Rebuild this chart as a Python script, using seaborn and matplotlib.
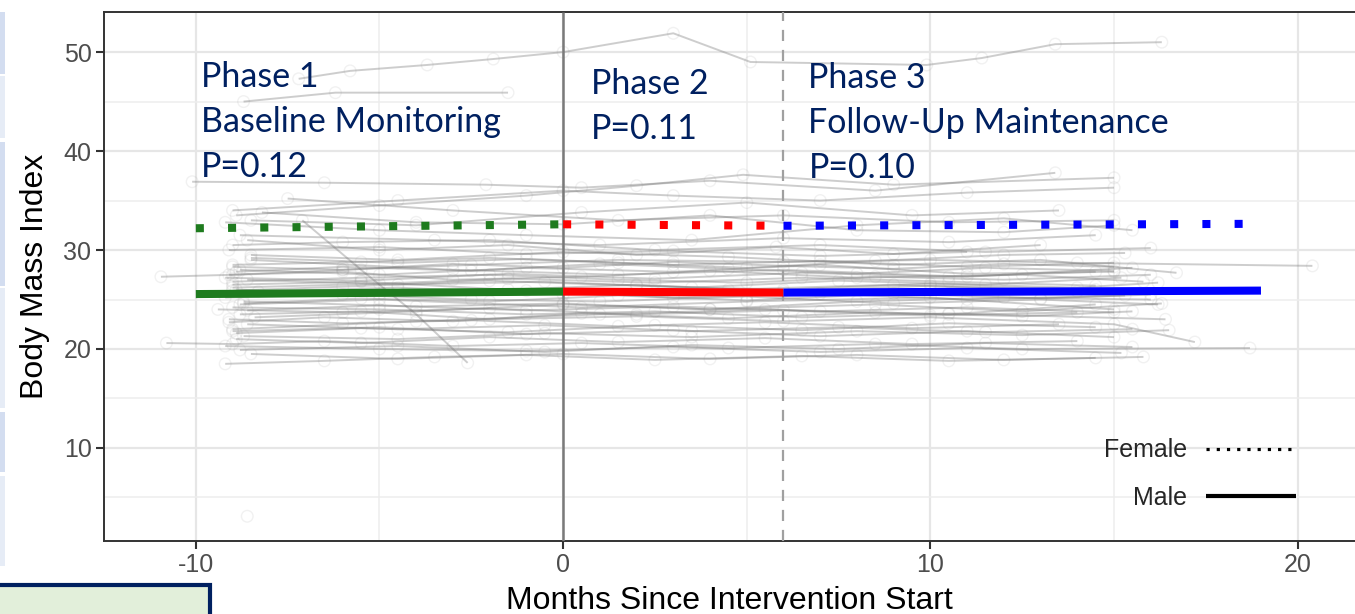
import pandas as pd
import numpy as np
import matplotlib.pyplot as plt
import seaborn as sns
from matplotlib.lines import Line2D
from matplotlib.patches import Rectangle
from matplotlib.ticker import MultipleLocator

# individual subject trajectories (months since start, BMI)
subject_months = [
    [-7.2, -5.8, -3.7, -1.9, 0.0, 3.0, 5.1, 9.9, 11.4, 13.4, 16.3],
    [-8.7, -6.2, -1.5],
    [-10.1, -6.5, -2.1, 0.5, 4.0, 8.5, 13.4],
    [-8.9, -5.0, -1.0, 2.0, 4.9, 9.0, 15.0],
    [-9.0, -4.5, 0.0, 3.0, 7.0, 11.0, 15.0],
    [-8.5, -4.0, 0.5, 5.0, 9.5, 13.5],
    [-7.1, -5.5, -4.0, -2.6],
    [-9.2, -5.0, -1.0, 3.5, 8.0, 12.0, 15.5],
    [-8.8, -3.5, 1.0, 6.0, 10.5, 14.5],
    [-9.0, -6.0, -2.0, 2.5, 7.0, 11.5, 16.0],
    [-10.95, -9.0, -6.0, -2.5, 1.5, 6.0, 10.0, 14.0, 20.4],
    [-8.5, -4.5, 0.0, 4.5, 9.0, 13.0, 16.7],
    [-9.0, -5.5, -2.0, 1.5, 5.0, 8.5, 12.0, 15.3],
    [-8.8, -5.0, -1.0, 3.0, 7.0, 11.0, 15.0],
    [-9.1, -6.0, -3.0, 0.5, 4.0, 8.0, 12.5, 15.8],
    [-8.6, -4.5, -0.5, 3.5, 7.5, 11.5, 15.2],
    [-9.0, -5.5, -1.5, 2.0, 6.0, 10.0, 14.5],
    [-8.9, -5.0, -1.0, 3.0, 7.0, 11.0, 15.3],
    [-9.2, -6.0, -2.5, 1.0, 5.0, 9.0, 13.0, 16.2],
    [-8.7, -4.0, 0.0, 4.0, 8.5, 12.5, 16.3],
    [-9.0, -5.0, -1.0, 2.5, 6.5, 10.5, 16.4],
    [-8.8, -5.5, -2.0, 2.0, 6.0, 10.0, 15.0, 17.2],
    [-9.1, -6.0, -2.5, 1.5, 5.5, 9.5, 13.5],
    [-8.6, -4.5, -0.5, 3.5, 7.5, 11.5, 15.5],
    [-9.0, -5.0, -1.0, 3.0, 7.0, 11.0, 15.0],
    [-10.8, -9.0, -6.5, -3.0, 0.5, 4.5, 8.5, 12.5, 18.7],
    [-8.9, -5.5, -2.0, 1.5, 5.5, 9.5, 14.0],
    [-9.2, -5.0, -1.0, 3.0, 7.0, 11.0, 15.2],
    [-9.2, -6.5, -3.5, 0.0, 4.0, 8.0, 12.0, 15.8],
    [-8.5, -4.5, -1.0, 2.5, 6.5, 10.5, 14.5],
    [-8.8, -5.0, 0.5, 5.0, 10.0, 15.0],
    [-8.3, -4.5, 0.0, 4.5, 9.0, 14.0],
    [-8.5, -3.0, 1.5, 6.0, 11.0, 15.5],
    [-9.0, -4.0, 1.0, 5.5, 10.5, 14.5],
    [-8.6, -5.0, -1.5, 2.0, 5.8, 9.0, 13.0],
    [-9.0, -5.5, -2.0, 1.5, 5.0, 8.5, 12.0, 16.0],
    [-8.4, -4.0, 0.0, 4.0, 8.0, 12.0, 16.0],
    [-9.0, -6.0, -3.0, 0.0, 3.0, 6.0, 9.0, 12.0, 15.0],
    [-8.7, -4.5, -0.5, 3.5, 8.0, 12.5, 16.5],
    [-9.1, -5.0, -1.0, 3.0, 7.0, 11.0],
    [-8.2, -4.0, 0.0, 4.0, 8.0, 12.0, 15.0],
    [-9.4, -6.0, -2.0, 2.0, 6.0, 10.0, 14.0],
    [-7.5, -3.0, 1.5, 6.0, 10.5, 15.0],
    [-8.6],
    [-8.9, -6.0, -2.5, 1.0, 4.5, 8.0, 11.5, 15.0],
    [-9.0, -5.0, -1.5, 2.5, 6.5, 10.5, 14.5],
    [-8.7, -5.5, -2.0, 1.5, 5.0, 9.0, 13.0, 16.0],
    [-9.1, -6.5, -3.0, 0.5, 4.5, 8.5, 12.5, 15.5],
    [-8.5, -4.5, -1.0, 3.0, 7.0, 11.0, 15.0],
    [-8.9, -5.5, -1.5, 2.5, 6.5, 10.5, 14.5],
    [-9.0, -6.0, -2.0, 2.0, 6.0, 10.0, 14.0, 16.2],
    [-8.8, -4.5, -0.5, 3.5, 7.5, 11.5, 15.5],
    [-9.2, -5.5, -1.5, 2.5, 6.5, 10.5, 14.5],
    [-8.6, -5.0, -1.0, 3.0, 7.0, 11.0, 15.0],
]
subject_bmi = [
    [47.3, 48.1, 48.7, 49.3, 50.0, 51.9, 49.0, 48.7, 49.4, 50.8, 51.0],
    [45.0, 45.9, 45.9],
    [36.9, 36.8, 36.6, 36.3, 37.0, 36.0, 37.8],
    [33.5, 34.5, 35.5, 36.5, 37.6, 36.6, 37.3],
    [34.0, 35.0, 36.0, 35.5, 35.0, 35.8, 36.3],
    [33.0, 32.5, 33.8, 34.8, 33.5, 34.0],
    [33.0, 28.0, 23.5, 18.6],
    [32.8, 32.0, 31.5, 31.0, 32.5, 33.2, 32.0],
    [31.5, 31.0, 30.5, 31.2, 30.8, 31.5],
    [30.5, 30.8, 31.0, 30.0, 30.5, 29.8, 30.2],
    [27.3, 27.5, 28.0, 28.5, 29.0, 28.8, 29.0, 28.7, 28.4],
    [29.5, 29.0, 29.8, 29.3, 28.5, 29.0, 27.7],
    [28.5, 28.8, 29.2, 28.7, 28.2, 28.9, 29.5, 29.7],
    [28.0, 27.5, 28.2, 27.8, 28.5, 27.6, 27.8],
    [27.5, 27.8, 27.0, 27.3, 27.9, 27.2, 27.5, 26.8],
    [27.0, 26.5, 26.8, 26.2, 26.9, 26.5, 27.2],
    [26.5, 26.8, 26.0, 26.5, 25.8, 26.4, 26.0],
    [26.0, 25.5, 25.9, 25.2, 25.6, 25.0, 25.4],
    [25.2, 25.5, 25.0, 24.8, 25.3, 24.6, 25.0, 24.5],
    [24.8, 24.3, 24.6, 24.0, 24.5, 23.8, 24.6],
    [24.2, 24.0, 23.5, 23.8, 23.2, 23.6, 23.0],
    [23.5, 23.8, 23.0, 23.3, 22.8, 23.2, 22.5, 20.7],
    [23.0, 22.6, 22.9, 22.3, 22.7, 22.1, 22.5],
    [22.5, 22.0, 22.4, 21.8, 22.2, 21.7, 22.0],
    [21.8, 22.2, 21.5, 21.9, 21.3, 21.8, 21.2],
    [20.6, 20.5, 20.8, 20.3, 20.6, 20.1, 20.5, 20.0, 20.1],
    [21.0, 20.6, 21.2, 20.7, 21.1, 20.5, 20.8],
    [20.3, 20.0, 19.8, 20.2, 19.7, 20.1, 19.6],
    [18.5, 18.8, 19.2, 19.5, 19.0, 19.4, 18.9, 19.2],
    [19.5, 19.0, 19.4, 18.9, 19.3, 18.8, 19.1],
    [24.5, 25.0, 24.2, 24.8, 25.2, 24.0],
    [25.8, 26.2, 25.5, 26.0, 26.5, 25.8],
    [29.0, 28.0, 27.5, 28.0, 27.3, 28.2],
    [22.0, 22.8, 23.5, 24.0, 23.5, 24.5],
    [31.0, 30.0, 30.5, 29.5, 30.3, 29.6, 30.5],
    [26.8, 27.2, 27.5, 27.0, 26.7, 27.3, 27.0, 27.5],
    [23.2, 23.8, 24.5, 24.0, 24.8, 25.2, 25.0],
    [28.3, 28.0, 28.6, 28.2, 28.8, 28.4, 28.1, 28.6, 28.3],
    [21.3, 21.0, 21.6, 21.2, 21.8, 21.4, 21.9],
    [30.0, 30.3, 29.6, 29.9, 29.4, 29.8],
    [33.8, 32.8, 32.6, 33.5, 32.0, 31.8, 32.5],
    [24.0, 23.7, 24.1, 23.5, 23.9, 23.4, 23.7],
    [35.2, 34.0, 33.0, 33.5, 32.8, 33.0],
    [3.1],
    [27.8, 28.3, 27.9, 28.6, 28.1, 27.6, 28.2, 27.9],
    [26.2, 26.6, 27.1, 26.7, 27.2, 26.8, 26.4],
    [24.6, 25.1, 24.8, 25.4, 24.9, 25.6, 25.1, 25.5],
    [22.7, 23.2, 22.8, 23.6, 23.1, 23.7, 23.3, 23.8],
    [29.2, 28.7, 29.1, 28.5, 28.9, 28.3, 28.7],
    [21.6, 22.1, 21.7, 22.4, 21.9, 22.6, 22.2],
    [25.9, 26.3, 26.9, 26.4, 26.0, 26.6, 26.2, 26.7],
    [19.9, 20.3, 19.7, 20.4, 20.0, 20.6, 20.2],
    [27.2, 26.9, 27.6, 27.1, 27.7, 27.3, 27.8],
    [23.9, 24.4, 23.9, 24.3, 23.8, 24.2, 23.7],
]

# fitted phase trends
phase_names = ['Phase 1', 'Phase 2', 'Phase 3']
phase_start = [-10, 0, 6]
phase_end = [0, 6, 19]
male_start = [25.55, 25.8, 25.7]
male_end = [25.8, 25.7, 25.9]
female_start = [32.2, 32.6, 32.45]
female_end = [32.6, 32.45, 32.65]
phase_colors = ['#1E7B1E', '#FF0000', '#0000FF']
phase_text = ['Phase 1\nBaseline Monitoring\nP=0.12',
              'Phase 2\nP=0.11',
              'Phase 3\nFollow-Up Maintenance\nP=0.10']
text_x = [-9.87, 0.76, 6.68]
text_y = [49.1, 48.4, 49.0]

rows = []
for i, (t, b) in enumerate(zip(subject_months, subject_bmi)):
    for tt, bb in zip(t, b):
        rows.append({'id': i, 'month': tt, 'bmi': bb})
df = pd.DataFrame(rows)

trend_rows = []
for i, p in enumerate(phase_names):
    trend_rows.append({'phase': p, 'sex': 'Male', 'month': phase_start[i], 'bmi': male_start[i]})
    trend_rows.append({'phase': p, 'sex': 'Male', 'month': phase_end[i], 'bmi': male_end[i]})
    trend_rows.append({'phase': p, 'sex': 'Female', 'month': phase_start[i], 'bmi': female_start[i]})
    trend_rows.append({'phase': p, 'sex': 'Female', 'month': phase_end[i], 'bmi': female_end[i]})
trend = pd.DataFrame(trend_rows)

sns.set_theme(style='white')
plt.rcParams['font.family'] = ['Liberation Sans', 'DejaVu Sans']
plt.rcParams['lines.solid_capstyle'] = 'butt'
plt.rcParams['axes.unicode_minus'] = False

fig = plt.figure(figsize=(13.55, 6.14), dpi=100)
ax = fig.add_axes([104 / 1355, 73 / 614, 1251 / 1355, 529 / 614])

# spaghetti
sns.lineplot(data=df, x='month', y='bmi', units='id', estimator=None, sort=False,
             color='#6A6A6A', alpha=0.33, linewidth=1.4, legend=False, ax=ax, zorder=2)
sns.scatterplot(data=df, x='month', y='bmi', facecolors='none', edgecolors='#909090',
                alpha=0.12, s=70, linewidth=1.0, legend=False, ax=ax, zorder=2)

ax.axvline(0, color='#7A7A7A', lw=1.8, zorder=3)
ax.axvline(6, color='#A0A0A0', lw=1.6, dashes=(5, 4), zorder=3)

# phase trends
sns.lineplot(data=trend, x='month', y='bmi', hue='phase', style='sex', estimator=None,
             palette=dict(zip(phase_names, phase_colors)),
             dashes={'Female': (1, 3.0), 'Male': ''}, linewidth=5.8,
             legend=False, ax=ax, zorder=4)

for txt, x, y in zip(phase_text, text_x, text_y):
    ax.text(x, y, txt, color='#002060', fontsize=24.5, family='Lato',
            va='top', ha='left', linespacing=1.5, zorder=5)

ax.set_xlim(-12.5, 21.56)
ax.set_ylim(0.6, 54.05)
ax.set_xticks([-10, 0, 10, 20])
ax.set_yticks([10, 20, 30, 40, 50])
ax.xaxis.set_minor_locator(MultipleLocator(5))
ax.yaxis.set_minor_locator(MultipleLocator(5))
ax.grid(which='major', color='#E6E6E6', lw=1.6, zorder=0)
ax.grid(which='minor', color='#EDEDED', lw=1.1, zorder=0)
ax.set_axisbelow(True)
ax.tick_params(which='major', length=6, width=1.5, color='#333333',
               labelsize=18, labelcolor='#4D4D4D', pad=3, bottom=True, left=True)
ax.tick_params(which='minor', length=0)
for side in ['left', 'top', 'bottom']:
    ax.spines[side].set_color('#333333')
    ax.spines[side].set_linewidth(1.4)
ax.spines['right'].set_visible(False)
ax.set_xlabel('Months Since Intervention Start', fontsize=23, color='black', labelpad=6)
ax.set_ylabel('Body Mass Index', fontsize=23, color='black', labelpad=10)

handles = [Line2D([], [], color='black', lw=2.3, dashes=(1, 2.2)),
           Line2D([], [], color='black', lw=3)]
ax.legend(handles, ['Female', 'Male'], loc='lower right',
          bbox_to_anchor=(1296 / 1355, 104 / 614), bbox_transform=fig.transFigure,
          frameon=False, markerfirst=False, handlelength=3.6, handletextpad=0.75,
          labelspacing=0.95, borderpad=0, borderaxespad=0, fontsize=18)

# slide pieces around the chart
stripe = [(12, 74, '#D3DDF0'), (76, 138, '#E6ECF6'), (142, 286, '#D3DDF0'),
          (288, 408, '#E6ECF6'), (412, 472, '#D3DDF0'), (476, 566, '#E6ECF6')]
for top, bot, c in stripe:
    fig.patches.append(Rectangle((0, 1 - bot / 614), 5 / 1355, (bot - top) / 614,
                                 transform=fig.transFigure, facecolor=c, edgecolor='none'))
fig.patches.append(Rectangle((-5 / 1355, -10 / 614), 215 / 1355, 39 / 614,
                             transform=fig.transFigure, facecolor='#E2EFDA',
                             edgecolor='#002060', lw=3))

fig.savefig('out.png', dpi=100)
